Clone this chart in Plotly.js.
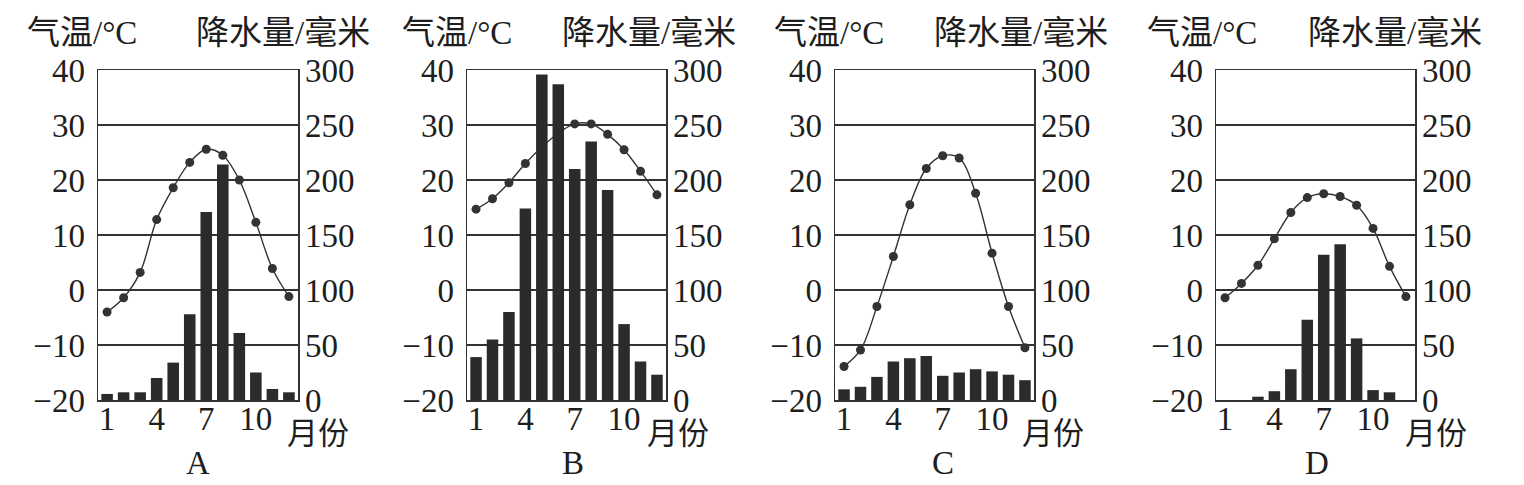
<!DOCTYPE html>
<html>
<head>
<meta charset="utf-8">
<script src="https://cdn.plot.ly/plotly-2.35.2.min.js"></script>
<style>html,body{margin:0;padding:0;background:#fff;}#chart{width:1524px;height:485px;}</style>
</head>
<body>
<div id="chart"></div>
<script>
const months = [1,2,3,4,5,6,7,8,9,10,11,12];
const xTickVals = [1,4,7,10];
const xTickText = ['1','4','7','10'];
const panelLabels = ['A','B','C','D'];
const tempTitle = '气温/°C';
const precTitle = '降水量/毫米';
const monthTitle = '月份';

const tempA = [-4, -1.4, 3.2, 12.8, 18.6, 23.2, 25.6, 24.5, 20, 12.3, 3.9, -1.2];
const precA = [5.5, 7, 7, 20, 34, 78, 171, 214, 61, 25, 10, 7];
const tempB = [14.7, 16.6, 19.5, 23, 26, 28.5, 30.2, 30.2, 28.3, 25.5, 21.6, 17.3];
const precB = [39, 55, 80, 174, 296, 287, 210, 235, 191, 69, 35, 23];
const tempC = [-13.9, -10.9, -3, 6.1, 15.5, 22.1, 24.4, 24, 17.6, 6.7, -3, -10.5];
const precC = [9.7, 12, 21, 35, 38, 40, 22, 25, 28, 26, 23, 18];
const tempD = [-1.4, 1.2, 4.5, 9.3, 14.1, 16.8, 17.5, 17, 15.4, 11.2, 4.3, -1.2];
const precD = [0, 0, 3, 8, 28, 73, 132, 141.5, 56, 9, 7, 0];

const temps = [tempA, tempB, tempC, tempD];
const precs = [precA, precB, precC, precD];

const W = 1524, H = 485;
const plotX = [[98,298],[467,666],[835,1034],[1216,1415]];
const plotY = [70, 400];
const tempTitleX = [82, 457, 829, 1202];
const precTitleX = [283, 649, 1021, 1395];
const monthX = [318, 678, 1053, 1436];
const letterX = [198, 573, 943, 1317];

const ink = '#1e1e1e';
const numFont = {family: '"Liberation Serif", "Times New Roman", serif', size: 33, color: ink};
const cjkFont = {family: '"Liberation Serif", "Noto Sans CJK SC", serif', size: 33, color: ink};
const monthFont = {family: '"Liberation Serif", "Noto Sans CJK SC", serif', size: 31, color: ink};

const data = [];
const layout = {
  width: W, height: H,
  margin: {l:0, r:0, t:0, b:0},
  paper_bgcolor: '#fff', plot_bgcolor: '#fff',
  showlegend: false,
  bargap: 0.3,
  annotations: []
};

for (let i = 0; i < 4; i++) {
  const xn = i === 0 ? '' : String(i+1);
  const yt = i === 0 ? '' : String(2*i+1);
  const yp = String(2*i+2);
  data.push({
    type: 'scatter', mode: 'lines+markers',
    x: months, y: temps[i],
    xaxis: 'x' + xn, yaxis: 'y' + yt,
    line: {shape: 'spline', smoothing: 1, color: '#333', width: 1.4},
    marker: {size: 9, color: '#333'}
  });
  data.push({
    type: 'bar', x: months, y: precs[i],
    xaxis: 'x' + xn, yaxis: 'y' + yp,
    marker: {color: '#2b2b2b', line: {width: 0}}
  });
  const dom = [plotX[i][0]/W, plotX[i][1]/W];
  const ydom = [1 - plotY[1]/H, 1 - plotY[0]/H];
  layout['xaxis' + xn] = {
    domain: dom, anchor: 'y' + yt, range: [0.45, 12.55],
    tickmode: 'array', tickvals: xTickVals, ticktext: xTickText,
    ticks: '', showgrid: false, zeroline: false,
    showline: true, mirror: true, linecolor: '#333', linewidth: 1.5,
    tickfont: numFont, ticklabelstandoff: -11
  };
  layout['yaxis' + yt] = {
    domain: ydom, anchor: 'x' + xn, range: [-20, 40], dtick: 10, tick0: 0,
    ticks: '', showgrid: true, gridcolor: '#333', gridwidth: 1.3,
    zeroline: false, showline: true, mirror: true, linecolor: '#333', linewidth: 1.5,
    tickfont: numFont, ticklabelstandoff: 5
  };
  layout['yaxis' + yp] = {
    domain: ydom, anchor: 'x' + xn, overlaying: 'y' + yt, side: 'right',
    range: [0, 300], dtick: 50, tick0: 0, ticks: '', showgrid: false, zeroline: false,
    showline: false, tickfont: numFont, ticklabelstandoff: 6
  };
  layout.annotations.push(
    {text: tempTitle, xref:'paper', yref:'paper', x: tempTitleX[i]/W, y: 1-33/H, xanchor:'center', yanchor:'middle', showarrow:false, font: cjkFont},
    {text: precTitle, xref:'paper', yref:'paper', x: precTitleX[i]/W, y: 1-33/H, xanchor:'center', yanchor:'middle', showarrow:false, font: cjkFont},
    {text: monthTitle, xref:'paper', yref:'paper', x: monthX[i]/W, y: 1-433/H, xanchor:'center', yanchor:'middle', showarrow:false, font: monthFont},
    {text: panelLabels[i], xref:'paper', yref:'paper', x: letterX[i]/W, y: 1-463/H, xanchor:'center', yanchor:'middle', showarrow:false, font: numFont}
  );
}

Plotly.newPlot('chart', data, layout, {staticPlot: true, displayModeBar: false});
</script>
</body>
</html>
